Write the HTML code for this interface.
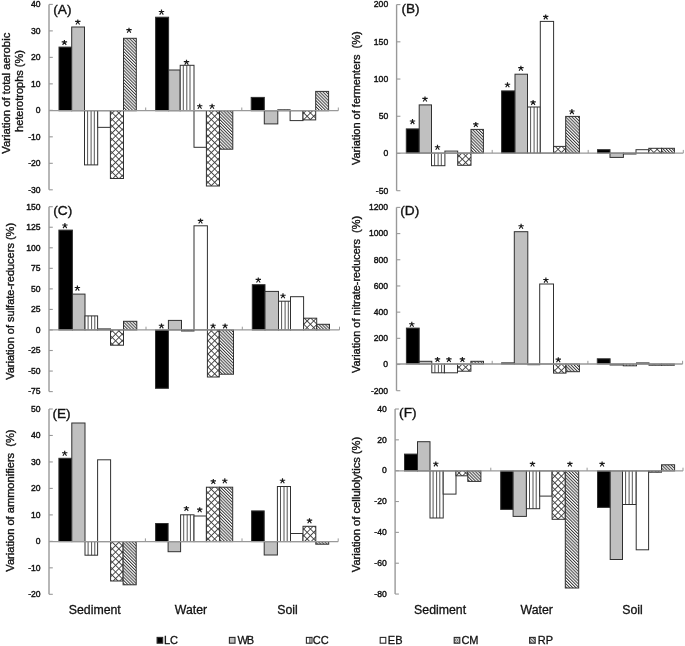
<!DOCTYPE html>
<html><head><meta charset="utf-8"><style>
html,body{margin:0;padding:0;background:#fff;}
svg{display:block;will-change:transform;}
text{font-family:"Liberation Sans", sans-serif;fill:#111;}
.tk{font-size:8.6px;text-anchor:end;stroke:#111;stroke-width:0.4px;}
.lt{font-size:12.8px;stroke:#111;stroke-width:0.35px;}
.yl{text-anchor:middle;white-space:pre;stroke:#111;stroke-width:0.35px;}
.cl{font-size:12.3px;stroke:#111;stroke-width:0.3px;}
.lg{font-size:11px;stroke:#111;stroke-width:0.3px;}
</style></head><body>
<svg width="685" height="646" viewBox="0 0 685 646">
<defs>
<pattern id="pCC" patternUnits="userSpaceOnUse" width="3.3" height="4"><rect width="3.3" height="4" fill="#fff"/><rect x="0" y="0" width="1" height="4" fill="#666"/></pattern>
<pattern id="pCM" patternUnits="userSpaceOnUse" width="4.67" height="4.67" patternTransform="rotate(45)"><rect width="4.67" height="4.67" fill="#fff"/><path d="M0,0.45H4.67M0.45,0V4.67" stroke="#3a3a3a" stroke-width="0.9"/></pattern>
<pattern id="pRP" patternUnits="userSpaceOnUse" width="2.2" height="4" patternTransform="rotate(-45)"><rect width="2.2" height="4" fill="#fff"/><rect x="0" y="0" width="1" height="4" fill="#3a3a3a"/></pattern>
<g id="star"><path d="M0,-2.4V0.2M-2.7,-0.5L2.7,-0.5M0,-0.2L-1.8,2.6M0,-0.2L1.8,2.6" stroke="#1a1a1a" stroke-width="1.15" fill="none"/></g>
<pattern id="lCM" patternUnits="userSpaceOnUse" width="2.5" height="2.5"><rect width="2.5" height="2.5" fill="#fff"/><path d="M0,0L2.5,2.5M2.5,0L0,2.5" stroke="#555" stroke-width="0.7"/></pattern>
</defs>
<rect x="59" y="47.1" width="12.7" height="63.6" fill="#000" stroke="#303030" stroke-width="1"/>
<rect x="71.7" y="27" width="12.8" height="83.7" fill="#c0c0c0" stroke="#303030" stroke-width="1"/>
<rect x="84.5" y="110.7" width="13.2" height="54.2" fill="#fff"/>
<path d="M87.6,110.7V164.9M91.1,110.7V164.9M94.3,110.7V164.9" stroke="#555" stroke-width="1"/>
<rect x="84.5" y="110.7" width="13.2" height="54.2" fill="none" stroke="#303030" stroke-width="1"/>
<rect x="97.7" y="110.7" width="12.7" height="16.65" fill="#fff" stroke="#303030" stroke-width="1"/>
<rect x="110.4" y="110.7" width="13.1" height="67.8" fill="url(#pCM)" stroke="#303030" stroke-width="1"/>
<rect x="123.5" y="38.3" width="12.8" height="72.4" fill="url(#pRP)" stroke="#303030" stroke-width="1"/>
<rect x="155.6" y="17.2" width="13" height="93.5" fill="#000" stroke="#303030" stroke-width="1"/>
<rect x="168.6" y="70" width="11.6" height="40.7" fill="#c0c0c0" stroke="#303030" stroke-width="1"/>
<rect x="180.2" y="65.3" width="13.8" height="45.4" fill="#fff"/>
<path d="M183.3,65.3V110.7M186.8,65.3V110.7M190,65.3V110.7" stroke="#555" stroke-width="1"/>
<rect x="180.2" y="65.3" width="13.8" height="45.4" fill="none" stroke="#303030" stroke-width="1"/>
<rect x="194" y="110.7" width="12.4" height="36.6" fill="#fff" stroke="#303030" stroke-width="1"/>
<rect x="206.4" y="110.7" width="13.1" height="75.3" fill="url(#pCM)" stroke="#303030" stroke-width="1"/>
<rect x="219.5" y="110.7" width="13.3" height="38.5" fill="url(#pRP)" stroke="#303030" stroke-width="1"/>
<rect x="251.2" y="97.4" width="13.1" height="13.3" fill="#000" stroke="#303030" stroke-width="1"/>
<rect x="264.3" y="110.7" width="13.5" height="13.2" fill="#c0c0c0" stroke="#303030" stroke-width="1"/>
<rect x="277.8" y="109.8" width="12.3" height="0.9" fill="#fff"/>
<path d="M280.9,109.8V110.7M284.4,109.8V110.7M287.6,109.8V110.7" stroke="#555" stroke-width="1"/>
<rect x="277.8" y="109.8" width="12.3" height="0.9" fill="none" stroke="#303030" stroke-width="1"/>
<rect x="290.1" y="110.7" width="12.9" height="9.9" fill="#fff" stroke="#303030" stroke-width="1"/>
<rect x="303" y="110.7" width="12.7" height="9.2" fill="url(#pCM)" stroke="#303030" stroke-width="1"/>
<rect x="315.7" y="91.4" width="12.9" height="19.3" fill="url(#pRP)" stroke="#303030" stroke-width="1"/>
<use href="#star" x="64.4" y="42.3"/>
<use href="#star" x="77.8" y="21.9"/>
<use href="#star" x="129" y="30.1"/>
<use href="#star" x="161.5" y="12"/>
<use href="#star" x="186.5" y="62.1"/>
<use href="#star" x="199.7" y="106.2"/>
<use href="#star" x="212.1" y="106.2"/>
<line x1="49" y1="4.4" x2="49" y2="189.8" stroke="#999" stroke-width="1.4"/>
<line x1="49" y1="4.4" x2="52.8" y2="4.4" stroke="#999" stroke-width="1.1"/>
<text x="40.6" y="7.2" class="tk">40</text>
<line x1="49" y1="30.89" x2="52.8" y2="30.89" stroke="#999" stroke-width="1.1"/>
<text x="40.6" y="33.69" class="tk">30</text>
<line x1="49" y1="57.37" x2="52.8" y2="57.37" stroke="#999" stroke-width="1.1"/>
<text x="40.6" y="60.17" class="tk">20</text>
<line x1="49" y1="83.86" x2="52.8" y2="83.86" stroke="#999" stroke-width="1.1"/>
<text x="40.6" y="86.66" class="tk">10</text>
<line x1="49" y1="110.34" x2="52.8" y2="110.34" stroke="#999" stroke-width="1.1"/>
<text x="40.6" y="113.14" class="tk">0</text>
<line x1="49" y1="136.83" x2="52.8" y2="136.83" stroke="#999" stroke-width="1.1"/>
<text x="40.6" y="139.63" class="tk">-10</text>
<line x1="49" y1="163.31" x2="52.8" y2="163.31" stroke="#999" stroke-width="1.1"/>
<text x="40.6" y="166.11" class="tk">-20</text>
<line x1="49" y1="189.8" x2="52.8" y2="189.8" stroke="#999" stroke-width="1.1"/>
<text x="40.6" y="192.6" class="tk">-30</text>
<line x1="49" y1="110.7" x2="338.3" y2="110.7" stroke="#999" stroke-width="1.3"/>
<line x1="145.7" y1="110.7" x2="145.7" y2="107.5" stroke="#999" stroke-width="1"/>
<line x1="241.8" y1="110.7" x2="241.8" y2="107.5" stroke="#999" stroke-width="1"/>
<line x1="338.3" y1="110.7" x2="338.3" y2="107.5" stroke="#999" stroke-width="1"/>
<text transform="translate(53.3,13.5) scale(1.07,0.93)" class="lt">(A)</text>
<rect x="406.3" y="128.9" width="12.9" height="24.2" fill="#000" stroke="#303030" stroke-width="1"/>
<rect x="419.2" y="104.9" width="12.3" height="48.2" fill="#c0c0c0" stroke="#303030" stroke-width="1"/>
<rect x="431.5" y="153.1" width="13.4" height="12.6" fill="#fff"/>
<path d="M434.6,153.1V165.7M438.1,153.1V165.7M441.3,153.1V165.7" stroke="#555" stroke-width="1"/>
<rect x="431.5" y="153.1" width="13.4" height="12.6" fill="none" stroke="#303030" stroke-width="1"/>
<rect x="444.9" y="151.1" width="12.8" height="2" fill="#fff" stroke="#303030" stroke-width="1"/>
<rect x="457.7" y="153.1" width="13.3" height="12.2" fill="url(#pCM)" stroke="#303030" stroke-width="1"/>
<rect x="471" y="129.4" width="12.4" height="23.7" fill="url(#pRP)" stroke="#303030" stroke-width="1"/>
<rect x="501.6" y="90.9" width="13.4" height="62.2" fill="#000" stroke="#303030" stroke-width="1"/>
<rect x="515" y="74.2" width="12.5" height="78.9" fill="#c0c0c0" stroke="#303030" stroke-width="1"/>
<rect x="527.5" y="107" width="12.8" height="46.1" fill="#fff"/>
<path d="M530.6,107V153.1M534.1,107V153.1M537.3,107V153.1" stroke="#555" stroke-width="1"/>
<rect x="527.5" y="107" width="12.8" height="46.1" fill="none" stroke="#303030" stroke-width="1"/>
<rect x="540.3" y="21.4" width="13.3" height="131.7" fill="#fff" stroke="#303030" stroke-width="1"/>
<rect x="553.6" y="146.4" width="12.1" height="6.7" fill="url(#pCM)" stroke="#303030" stroke-width="1"/>
<rect x="565.7" y="116.4" width="13.7" height="36.7" fill="url(#pRP)" stroke="#303030" stroke-width="1"/>
<rect x="597.5" y="149.7" width="12.5" height="3.4" fill="#000" stroke="#303030" stroke-width="1"/>
<rect x="610" y="153.1" width="13.4" height="4.3" fill="#c0c0c0" stroke="#303030" stroke-width="1"/>
<rect x="623.4" y="153.1" width="12.6" height="0.9" fill="#fff"/>
<path d="M626.5,153.1V154M630,153.1V154M633.2,153.1V154" stroke="#555" stroke-width="1"/>
<rect x="623.4" y="153.1" width="12.6" height="0.9" fill="none" stroke="#303030" stroke-width="1"/>
<rect x="636" y="149.7" width="12.8" height="3.4" fill="#fff" stroke="#303030" stroke-width="1"/>
<rect x="648.8" y="148.3" width="12.8" height="4.8" fill="url(#pCM)" stroke="#303030" stroke-width="1"/>
<rect x="661.6" y="148.3" width="12.8" height="4.8" fill="url(#pRP)" stroke="#303030" stroke-width="1"/>
<use href="#star" x="412.5" y="121.5"/>
<use href="#star" x="425" y="98.9"/>
<use href="#star" x="437.5" y="147.2"/>
<use href="#star" x="475.8" y="124.4"/>
<use href="#star" x="507.5" y="84.7"/>
<use href="#star" x="520.9" y="68.1"/>
<use href="#star" x="533.1" y="102.3"/>
<use href="#star" x="545.7" y="16.8"/>
<use href="#star" x="571.9" y="111.5"/>
<line x1="396.6" y1="4.6" x2="396.6" y2="190.7" stroke="#999" stroke-width="1.4"/>
<line x1="396.6" y1="4.6" x2="400.40000000000003" y2="4.6" stroke="#999" stroke-width="1.1"/>
<text x="388.2" y="7.4" class="tk">200</text>
<line x1="396.6" y1="41.82" x2="400.40000000000003" y2="41.82" stroke="#999" stroke-width="1.1"/>
<text x="388.2" y="44.62" class="tk">150</text>
<line x1="396.6" y1="79.04" x2="400.40000000000003" y2="79.04" stroke="#999" stroke-width="1.1"/>
<text x="388.2" y="81.84" class="tk">100</text>
<line x1="396.6" y1="116.26" x2="400.40000000000003" y2="116.26" stroke="#999" stroke-width="1.1"/>
<text x="388.2" y="119.06" class="tk">50</text>
<line x1="396.6" y1="153.48" x2="400.40000000000003" y2="153.48" stroke="#999" stroke-width="1.1"/>
<text x="388.2" y="156.28" class="tk">0</text>
<line x1="396.6" y1="190.7" x2="400.40000000000003" y2="190.7" stroke="#999" stroke-width="1.1"/>
<text x="388.2" y="193.5" class="tk">-50</text>
<line x1="396.6" y1="153.1" x2="683.3" y2="153.1" stroke="#999" stroke-width="1.3"/>
<line x1="492.2" y1="153.1" x2="492.2" y2="149.9" stroke="#999" stroke-width="1"/>
<line x1="588.2" y1="153.1" x2="588.2" y2="149.9" stroke="#999" stroke-width="1"/>
<line x1="683.3" y1="153.1" x2="683.3" y2="149.9" stroke="#999" stroke-width="1"/>
<text transform="translate(401.4,13.25) scale(1.07,0.93)" class="lt">(B)</text>
<rect x="58.9" y="230.1" width="13.5" height="99.8" fill="#000" stroke="#303030" stroke-width="1"/>
<rect x="72.4" y="294.1" width="12.6" height="35.8" fill="#c0c0c0" stroke="#303030" stroke-width="1"/>
<rect x="85" y="315.9" width="12.6" height="14" fill="#fff"/>
<path d="M88.1,315.9V329.9M91.6,315.9V329.9M94.8,315.9V329.9" stroke="#555" stroke-width="1"/>
<rect x="85" y="315.9" width="12.6" height="14" fill="none" stroke="#303030" stroke-width="1"/>
<rect x="97.6" y="328.9" width="12.9" height="1" fill="#fff" stroke="#303030" stroke-width="1"/>
<rect x="110.5" y="329.9" width="13" height="15.3" fill="url(#pCM)" stroke="#303030" stroke-width="1"/>
<rect x="123.5" y="321.3" width="13.3" height="8.6" fill="url(#pRP)" stroke="#303030" stroke-width="1"/>
<rect x="155.5" y="329.9" width="12.9" height="58.4" fill="#000" stroke="#303030" stroke-width="1"/>
<rect x="168.4" y="320.4" width="13.1" height="9.5" fill="#c0c0c0" stroke="#303030" stroke-width="1"/>
<rect x="181.5" y="329.9" width="12.5" height="1.1" fill="#fff"/>
<path d="M184.6,329.9V331M188.1,329.9V331M191.3,329.9V331" stroke="#555" stroke-width="1"/>
<rect x="181.5" y="329.9" width="12.5" height="1.1" fill="none" stroke="#303030" stroke-width="1"/>
<rect x="194" y="225.8" width="13.4" height="104.1" fill="#fff" stroke="#303030" stroke-width="1"/>
<rect x="207.4" y="329.9" width="11.9" height="47.1" fill="url(#pCM)" stroke="#303030" stroke-width="1"/>
<rect x="219.3" y="329.9" width="14.2" height="44.3" fill="url(#pRP)" stroke="#303030" stroke-width="1"/>
<rect x="252.3" y="284.7" width="12.7" height="45.2" fill="#000" stroke="#303030" stroke-width="1"/>
<rect x="265" y="291.4" width="13.5" height="38.5" fill="#c0c0c0" stroke="#303030" stroke-width="1"/>
<rect x="278.5" y="301.2" width="12" height="28.7" fill="#fff"/>
<path d="M281.6,301.2V329.9M285.1,301.2V329.9M288.3,301.2V329.9" stroke="#555" stroke-width="1"/>
<rect x="278.5" y="301.2" width="12" height="28.7" fill="none" stroke="#303030" stroke-width="1"/>
<rect x="290.5" y="296.7" width="13.1" height="33.2" fill="#fff" stroke="#303030" stroke-width="1"/>
<rect x="303.6" y="318.2" width="13.1" height="11.7" fill="url(#pCM)" stroke="#303030" stroke-width="1"/>
<rect x="316.7" y="324.3" width="12.8" height="5.6" fill="url(#pRP)" stroke="#303030" stroke-width="1"/>
<use href="#star" x="64.9" y="225.5"/>
<use href="#star" x="77.4" y="288"/>
<use href="#star" x="161.5" y="325.8"/>
<use href="#star" x="200.5" y="220.9"/>
<use href="#star" x="213.1" y="325.8"/>
<use href="#star" x="225.1" y="325.8"/>
<use href="#star" x="258.3" y="279.9"/>
<use href="#star" x="283" y="295.7"/>
<line x1="49" y1="206.7" x2="49" y2="391.6" stroke="#999" stroke-width="1.4"/>
<line x1="49" y1="206.7" x2="52.8" y2="206.7" stroke="#999" stroke-width="1.1"/>
<text x="40.6" y="209.5" class="tk">150</text>
<line x1="49" y1="227.24" x2="52.8" y2="227.24" stroke="#999" stroke-width="1.1"/>
<text x="40.6" y="230.04" class="tk">125</text>
<line x1="49" y1="247.79" x2="52.8" y2="247.79" stroke="#999" stroke-width="1.1"/>
<text x="40.6" y="250.59" class="tk">100</text>
<line x1="49" y1="268.33" x2="52.8" y2="268.33" stroke="#999" stroke-width="1.1"/>
<text x="40.6" y="271.13" class="tk">75</text>
<line x1="49" y1="288.88" x2="52.8" y2="288.88" stroke="#999" stroke-width="1.1"/>
<text x="40.6" y="291.68" class="tk">50</text>
<line x1="49" y1="309.42" x2="52.8" y2="309.42" stroke="#999" stroke-width="1.1"/>
<text x="40.6" y="312.22" class="tk">25</text>
<line x1="49" y1="329.97" x2="52.8" y2="329.97" stroke="#999" stroke-width="1.1"/>
<text x="40.6" y="332.77" class="tk">0</text>
<line x1="49" y1="350.51" x2="52.8" y2="350.51" stroke="#999" stroke-width="1.1"/>
<text x="40.6" y="353.31" class="tk">-25</text>
<line x1="49" y1="371.06" x2="52.8" y2="371.06" stroke="#999" stroke-width="1.1"/>
<text x="40.6" y="373.86" class="tk">-50</text>
<line x1="49" y1="391.6" x2="52.8" y2="391.6" stroke="#999" stroke-width="1.1"/>
<text x="40.6" y="394.4" class="tk">-75</text>
<line x1="49" y1="329.9" x2="339.5" y2="329.9" stroke="#999" stroke-width="1.3"/>
<line x1="146" y1="329.9" x2="146" y2="326.7" stroke="#999" stroke-width="1"/>
<line x1="242.3" y1="329.9" x2="242.3" y2="326.7" stroke="#999" stroke-width="1"/>
<line x1="339.5" y1="329.9" x2="339.5" y2="326.7" stroke="#999" stroke-width="1"/>
<text transform="translate(53.3,215) scale(1.07,0.93)" class="lt">(C)</text>
<rect x="406.4" y="328.1" width="12.8" height="35.9" fill="#000" stroke="#303030" stroke-width="1"/>
<rect x="419.2" y="361.3" width="12.6" height="2.7" fill="#c0c0c0" stroke="#303030" stroke-width="1"/>
<rect x="431.8" y="364" width="12.6" height="8.8" fill="#fff"/>
<path d="M434.9,364V372.8M438.4,364V372.8M441.6,364V372.8" stroke="#555" stroke-width="1"/>
<rect x="431.8" y="364" width="12.6" height="8.8" fill="none" stroke="#303030" stroke-width="1"/>
<rect x="444.4" y="364" width="13.1" height="8.8" fill="#fff" stroke="#303030" stroke-width="1"/>
<rect x="457.5" y="364" width="13.4" height="7.2" fill="url(#pCM)" stroke="#303030" stroke-width="1"/>
<rect x="470.9" y="361.3" width="12.6" height="2.7" fill="url(#pRP)" stroke="#303030" stroke-width="1"/>
<rect x="501.6" y="362.9" width="12.7" height="1.1" fill="#000" stroke="#303030" stroke-width="1"/>
<rect x="514.3" y="231.7" width="13.5" height="132.3" fill="#c0c0c0" stroke="#303030" stroke-width="1"/>
<rect x="527.8" y="364" width="11.9" height="0.7" fill="#fff"/>
<path d="M530.9,364V364.7M534.4,364V364.7M537.6,364V364.7" stroke="#555" stroke-width="1"/>
<rect x="527.8" y="364" width="11.9" height="0.7" fill="none" stroke="#303030" stroke-width="1"/>
<rect x="539.7" y="284" width="13.8" height="80" fill="#fff" stroke="#303030" stroke-width="1"/>
<rect x="553.5" y="364" width="12.5" height="9.1" fill="url(#pCM)" stroke="#303030" stroke-width="1"/>
<rect x="566" y="364" width="13.4" height="7.7" fill="url(#pRP)" stroke="#303030" stroke-width="1"/>
<rect x="597.3" y="358.8" width="12.8" height="5.2" fill="#000" stroke="#303030" stroke-width="1"/>
<rect x="610.1" y="364" width="13.2" height="1" fill="#c0c0c0" stroke="#303030" stroke-width="1"/>
<rect x="623.3" y="364" width="13.2" height="1.8" fill="#fff"/>
<path d="M626.4,364V365.8M629.9,364V365.8M633.1,364V365.8" stroke="#555" stroke-width="1"/>
<rect x="623.3" y="364" width="13.2" height="1.8" fill="none" stroke="#303030" stroke-width="1"/>
<rect x="636.5" y="362.9" width="12.5" height="1.1" fill="#fff" stroke="#303030" stroke-width="1"/>
<rect x="649" y="364" width="12.6" height="1.2" fill="url(#pCM)" stroke="#303030" stroke-width="1"/>
<rect x="661.6" y="364" width="12.7" height="1.2" fill="url(#pRP)" stroke="#303030" stroke-width="1"/>
<use href="#star" x="411.8" y="324.2"/>
<use href="#star" x="437.5" y="359.4"/>
<use href="#star" x="448.9" y="359.4"/>
<use href="#star" x="462.4" y="359.4"/>
<use href="#star" x="521.1" y="226.2"/>
<use href="#star" x="545.9" y="280"/>
<use href="#star" x="558.3" y="359.6"/>
<line x1="396.5" y1="207.4" x2="396.5" y2="390.7" stroke="#999" stroke-width="1.4"/>
<line x1="396.5" y1="207.4" x2="400.3" y2="207.4" stroke="#999" stroke-width="1.1"/>
<text x="388.1" y="210.2" class="tk">1200</text>
<line x1="396.5" y1="233.59" x2="400.3" y2="233.59" stroke="#999" stroke-width="1.1"/>
<text x="388.1" y="236.39" class="tk">1000</text>
<line x1="396.5" y1="259.77" x2="400.3" y2="259.77" stroke="#999" stroke-width="1.1"/>
<text x="388.1" y="262.57" class="tk">800</text>
<line x1="396.5" y1="285.96" x2="400.3" y2="285.96" stroke="#999" stroke-width="1.1"/>
<text x="388.1" y="288.76" class="tk">600</text>
<line x1="396.5" y1="312.14" x2="400.3" y2="312.14" stroke="#999" stroke-width="1.1"/>
<text x="388.1" y="314.94" class="tk">400</text>
<line x1="396.5" y1="338.33" x2="400.3" y2="338.33" stroke="#999" stroke-width="1.1"/>
<text x="388.1" y="341.13" class="tk">200</text>
<line x1="396.5" y1="364.51" x2="400.3" y2="364.51" stroke="#999" stroke-width="1.1"/>
<text x="388.1" y="367.31" class="tk">0</text>
<line x1="396.5" y1="390.7" x2="400.3" y2="390.7" stroke="#999" stroke-width="1.1"/>
<text x="388.1" y="393.5" class="tk">-200</text>
<line x1="396.5" y1="364" x2="682.6" y2="364" stroke="#999" stroke-width="1.3"/>
<line x1="492.2" y1="364" x2="492.2" y2="360.8" stroke="#999" stroke-width="1"/>
<line x1="587.9" y1="364" x2="587.9" y2="360.8" stroke="#999" stroke-width="1"/>
<line x1="682.6" y1="364" x2="682.6" y2="360.8" stroke="#999" stroke-width="1"/>
<text transform="translate(400.3,215.3) scale(1.07,0.93)" class="lt">(D)</text>
<rect x="58.9" y="458.3" width="12.9" height="83.3" fill="#000" stroke="#303030" stroke-width="1"/>
<rect x="71.8" y="423" width="13.2" height="118.6" fill="#c0c0c0" stroke="#303030" stroke-width="1"/>
<rect x="85" y="541.6" width="12.6" height="13.6" fill="#fff"/>
<path d="M88.1,541.6V555.2M91.6,541.6V555.2M94.8,541.6V555.2" stroke="#555" stroke-width="1"/>
<rect x="85" y="541.6" width="12.6" height="13.6" fill="none" stroke="#303030" stroke-width="1"/>
<rect x="97.6" y="459.8" width="13" height="81.8" fill="#fff" stroke="#303030" stroke-width="1"/>
<rect x="110.6" y="541.6" width="12.5" height="39.4" fill="url(#pCM)" stroke="#303030" stroke-width="1"/>
<rect x="123.1" y="541.6" width="13.1" height="43.2" fill="url(#pRP)" stroke="#303030" stroke-width="1"/>
<rect x="155.6" y="523.5" width="12.5" height="18.1" fill="#000" stroke="#303030" stroke-width="1"/>
<rect x="168.1" y="541.6" width="12.5" height="10.1" fill="#c0c0c0" stroke="#303030" stroke-width="1"/>
<rect x="180.6" y="514.8" width="13.4" height="26.8" fill="#fff"/>
<path d="M183.7,514.8V541.6M187.2,514.8V541.6M190.4,514.8V541.6" stroke="#555" stroke-width="1"/>
<rect x="180.6" y="514.8" width="13.4" height="26.8" fill="none" stroke="#303030" stroke-width="1"/>
<rect x="194" y="516" width="12.4" height="25.6" fill="#fff" stroke="#303030" stroke-width="1"/>
<rect x="206.4" y="487.2" width="13.3" height="54.4" fill="url(#pCM)" stroke="#303030" stroke-width="1"/>
<rect x="219.7" y="487.2" width="13" height="54.4" fill="url(#pRP)" stroke="#303030" stroke-width="1"/>
<rect x="251.6" y="510.9" width="12.6" height="30.7" fill="#000" stroke="#303030" stroke-width="1"/>
<rect x="264.2" y="541.6" width="13.2" height="13.4" fill="#c0c0c0" stroke="#303030" stroke-width="1"/>
<rect x="277.4" y="486.5" width="13.1" height="55.1" fill="#fff"/>
<path d="M280.5,486.5V541.6M284,486.5V541.6M287.2,486.5V541.6" stroke="#555" stroke-width="1"/>
<rect x="277.4" y="486.5" width="13.1" height="55.1" fill="none" stroke="#303030" stroke-width="1"/>
<rect x="290.5" y="533.5" width="12.5" height="8.1" fill="#fff" stroke="#303030" stroke-width="1"/>
<rect x="303" y="526.3" width="12.8" height="15.3" fill="url(#pCM)" stroke="#303030" stroke-width="1"/>
<rect x="315.8" y="541.6" width="12.9" height="2.6" fill="url(#pRP)" stroke="#303030" stroke-width="1"/>
<use href="#star" x="64.7" y="453.2"/>
<use href="#star" x="186.4" y="508.3"/>
<use href="#star" x="199.7" y="509.6"/>
<use href="#star" x="213.3" y="481.4"/>
<use href="#star" x="224.8" y="480.7"/>
<use href="#star" x="282.5" y="480.7"/>
<use href="#star" x="309.5" y="520.6"/>
<line x1="49" y1="409" x2="49" y2="594.3" stroke="#999" stroke-width="1.4"/>
<line x1="49" y1="409" x2="52.8" y2="409" stroke="#999" stroke-width="1.1"/>
<text x="40.6" y="411.8" class="tk">50</text>
<line x1="49" y1="435.47" x2="52.8" y2="435.47" stroke="#999" stroke-width="1.1"/>
<text x="40.6" y="438.27" class="tk">40</text>
<line x1="49" y1="461.94" x2="52.8" y2="461.94" stroke="#999" stroke-width="1.1"/>
<text x="40.6" y="464.74" class="tk">30</text>
<line x1="49" y1="488.41" x2="52.8" y2="488.41" stroke="#999" stroke-width="1.1"/>
<text x="40.6" y="491.21" class="tk">20</text>
<line x1="49" y1="514.89" x2="52.8" y2="514.89" stroke="#999" stroke-width="1.1"/>
<text x="40.6" y="517.69" class="tk">10</text>
<line x1="49" y1="541.36" x2="52.8" y2="541.36" stroke="#999" stroke-width="1.1"/>
<text x="40.6" y="544.16" class="tk">0</text>
<line x1="49" y1="567.83" x2="52.8" y2="567.83" stroke="#999" stroke-width="1.1"/>
<text x="40.6" y="570.63" class="tk">-10</text>
<line x1="49" y1="594.3" x2="52.8" y2="594.3" stroke="#999" stroke-width="1.1"/>
<text x="40.6" y="597.1" class="tk">-20</text>
<line x1="49" y1="541.6" x2="338.2" y2="541.6" stroke="#999" stroke-width="1.3"/>
<line x1="145.4" y1="541.6" x2="145.4" y2="538.4" stroke="#999" stroke-width="1"/>
<line x1="242" y1="541.6" x2="242" y2="538.4" stroke="#999" stroke-width="1"/>
<line x1="338.2" y1="541.6" x2="338.2" y2="538.4" stroke="#999" stroke-width="1"/>
<text transform="translate(52.4,418.2) scale(1.07,0.93)" class="lt">(E)</text>
<rect x="404.5" y="454.1" width="13" height="16.8" fill="#000" stroke="#303030" stroke-width="1"/>
<rect x="417.5" y="441.7" width="12.5" height="29.2" fill="#c0c0c0" stroke="#303030" stroke-width="1"/>
<rect x="430" y="470.9" width="13.2" height="47.1" fill="#fff"/>
<path d="M433.1,470.9V518M436.6,470.9V518M439.8,470.9V518" stroke="#555" stroke-width="1"/>
<rect x="430" y="470.9" width="13.2" height="47.1" fill="none" stroke="#303030" stroke-width="1"/>
<rect x="443.2" y="470.9" width="12.8" height="23.2" fill="#fff" stroke="#303030" stroke-width="1"/>
<rect x="456" y="470.9" width="11.8" height="4.9" fill="url(#pCM)" stroke="#303030" stroke-width="1"/>
<rect x="467.8" y="470.9" width="13.1" height="10.5" fill="url(#pRP)" stroke="#303030" stroke-width="1"/>
<rect x="500.7" y="470.9" width="12.4" height="38.5" fill="#000" stroke="#303030" stroke-width="1"/>
<rect x="513.1" y="470.9" width="13.3" height="45.5" fill="#c0c0c0" stroke="#303030" stroke-width="1"/>
<rect x="526.4" y="470.9" width="13.3" height="37.8" fill="#fff"/>
<path d="M529.5,470.9V508.7M533,470.9V508.7M536.2,470.9V508.7" stroke="#555" stroke-width="1"/>
<rect x="526.4" y="470.9" width="13.3" height="37.8" fill="none" stroke="#303030" stroke-width="1"/>
<rect x="539.7" y="470.9" width="12.4" height="25.2" fill="#fff" stroke="#303030" stroke-width="1"/>
<rect x="552.1" y="470.9" width="13.2" height="48.4" fill="url(#pCM)" stroke="#303030" stroke-width="1"/>
<rect x="565.3" y="470.9" width="13.4" height="117.1" fill="url(#pRP)" stroke="#303030" stroke-width="1"/>
<rect x="597.5" y="470.9" width="12.7" height="36.5" fill="#000" stroke="#303030" stroke-width="1"/>
<rect x="610.2" y="470.9" width="12.3" height="88.6" fill="#c0c0c0" stroke="#303030" stroke-width="1"/>
<rect x="622.5" y="470.9" width="13.7" height="33.6" fill="#fff"/>
<path d="M625.6,470.9V504.5M629.1,470.9V504.5M632.3,470.9V504.5" stroke="#555" stroke-width="1"/>
<rect x="622.5" y="470.9" width="13.7" height="33.6" fill="none" stroke="#303030" stroke-width="1"/>
<rect x="636.2" y="470.9" width="12.4" height="78.9" fill="#fff" stroke="#303030" stroke-width="1"/>
<rect x="648.6" y="470.9" width="12.9" height="1.3" fill="url(#pCM)" stroke="#303030" stroke-width="1"/>
<rect x="661.5" y="464.8" width="13.1" height="6.1" fill="url(#pRP)" stroke="#303030" stroke-width="1"/>
<use href="#star" x="435.8" y="463.8"/>
<use href="#star" x="532.5" y="463.9"/>
<use href="#star" x="569.9" y="463.9"/>
<use href="#star" x="602.1" y="463.9"/>
<line x1="395.1" y1="409" x2="395.1" y2="594.05" stroke="#999" stroke-width="1.4"/>
<line x1="395.1" y1="409" x2="398.90000000000003" y2="409" stroke="#999" stroke-width="1.1"/>
<text x="386.7" y="411.8" class="tk">40</text>
<line x1="395.1" y1="439.84" x2="398.90000000000003" y2="439.84" stroke="#999" stroke-width="1.1"/>
<text x="386.7" y="442.64" class="tk">20</text>
<line x1="395.1" y1="470.68" x2="398.90000000000003" y2="470.68" stroke="#999" stroke-width="1.1"/>
<text x="386.7" y="473.48" class="tk">0</text>
<line x1="395.1" y1="501.52" x2="398.90000000000003" y2="501.52" stroke="#999" stroke-width="1.1"/>
<text x="386.7" y="504.32" class="tk">-20</text>
<line x1="395.1" y1="532.37" x2="398.90000000000003" y2="532.37" stroke="#999" stroke-width="1.1"/>
<text x="386.7" y="535.17" class="tk">-40</text>
<line x1="395.1" y1="563.21" x2="398.90000000000003" y2="563.21" stroke="#999" stroke-width="1.1"/>
<text x="386.7" y="566.01" class="tk">-60</text>
<line x1="395.1" y1="594.05" x2="398.90000000000003" y2="594.05" stroke="#999" stroke-width="1.1"/>
<text x="386.7" y="596.85" class="tk">-80</text>
<line x1="395.1" y1="470.9" x2="683" y2="470.9" stroke="#999" stroke-width="1.3"/>
<line x1="490.8" y1="470.9" x2="490.8" y2="467.7" stroke="#999" stroke-width="1"/>
<line x1="587.1" y1="470.9" x2="587.1" y2="467.7" stroke="#999" stroke-width="1"/>
<line x1="683" y1="470.9" x2="683" y2="467.7" stroke="#999" stroke-width="1"/>
<text transform="translate(399.1,417.4) scale(1.07,0.93)" class="lt">(F)</text>
<text transform="translate(10.3,93.2) rotate(-90)" x="0" y="0" class="yl" style="font-size:11.3px">Variation of total aerobic</text>
<text transform="translate(22.8,91.0) rotate(-90)" x="0" y="0" class="yl" style="font-size:11px">heterotrophs (%)</text>
<text transform="translate(360.3,98.2) rotate(-90)" x="0" y="0" class="yl" style="font-size:11px">Variation of fermenters  (%)</text>
<text transform="translate(13.9,301.4) rotate(-90)" x="0" y="0" class="yl" style="font-size:11px">Variation of sulfate-reducers (%)</text>
<text transform="translate(359.9,294.5) rotate(-90)" x="0" y="0" class="yl" style="font-size:10.93px">Variation of nitrate-reducers  (%)</text>
<text transform="translate(13.9,500.55) rotate(-90)" x="0" y="0" class="yl" style="font-size:11.1px">Variation of ammonifiers  (%)</text>
<text transform="translate(359.5,504.5) rotate(-90)" x="0" y="0" class="yl" style="font-size:11.15px">Variation of cellulolytics (%)</text>
<text x="68.8" y="614" class="cl">Sediment</text>
<text x="174.79999999999998" y="614" class="cl">Water</text>
<text x="277.2" y="614" class="cl">Soil</text>
<text x="414.09999999999997" y="614" class="cl">Sediment</text>
<text x="520.6" y="614" class="cl">Water</text>
<text x="622.2" y="614" class="cl">Soil</text>
<rect x="157.1" y="637.4" width="5.6" height="5.8" fill="#000" stroke="#2a2a2a" stroke-width="1.1"/>
<text x="163.9" y="644" class="lg" style="">LC</text>
<rect x="229.4" y="637.4" width="5.6" height="5.8" fill="#c0c0c0" stroke="#2a2a2a" stroke-width="1.1"/>
<text x="237.4" y="644" class="lg" style="letter-spacing:-0.9px">WB</text>
<rect x="306.4" y="637.4" width="5.6" height="5.8" fill="#fff" stroke="#2a2a2a" stroke-width="1.1"/>
<path d="M309.9,637.4V643.2" stroke="#333" stroke-width="1.1"/>
<text x="312.7" y="644" class="lg" style="">CC</text>
<rect x="380.2" y="637.4" width="5.6" height="5.8" fill="#fff" stroke="#2a2a2a" stroke-width="1.1"/>
<text x="387.79999999999995" y="644" class="lg" style="">EB</text>
<rect x="454.2" y="637.4" width="5.6" height="5.8" fill="url(#lCM)" stroke="#2a2a2a" stroke-width="1.1"/>
<text x="461.4" y="644" class="lg" style="">CM</text>
<rect x="529.6" y="637.4" width="5.6" height="5.8" fill="url(#pRP)" stroke="#2a2a2a" stroke-width="1.1"/>
<text x="537.6999999999999" y="644" class="lg" style="">RP</text>
</svg>
</body></html>
